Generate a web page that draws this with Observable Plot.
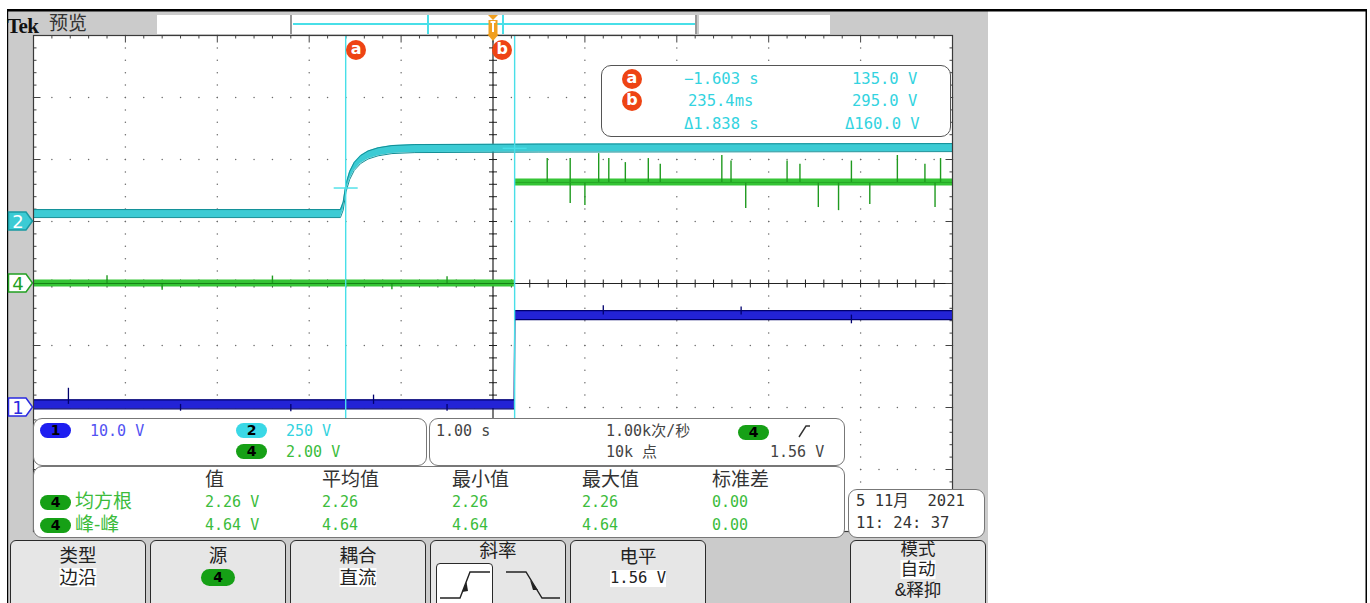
<!DOCTYPE html>
<html><head><meta charset="utf-8">
<script src="https://cdn.jsdelivr.net/npm/d3@7"></script>
<script src="https://cdn.jsdelivr.net/npm/@observablehq/plot@0.6"></script>
<style>
body{margin:0;background:#fff;}
#root{position:relative;width:1370px;height:603px;overflow:hidden;background:#fff;font-family:"DejaVu Sans Mono","Noto Sans CJK SC",monospace;}
#root > svg{position:absolute;left:0;top:0;}
.cjk{font-family:"Liberation Sans","Noto Sans CJK SC",sans-serif;}
</style></head>
<body><div id="root"></div>
<script>
// ---------- data ----------
const secPerDiv = 1.0;
const ch1Scale = 10, ch2Scale = 250, ch4Scale = 2;      // V/div
const ch1Offset = -2, ch2Offset = 1, ch4Offset = 0;     // div
// channel 2 (cyan) trace, seconds / volts
const ch2T = [-5, -1.66, -1.63, -1.60, -1.56, -1.51, -1.44, -1.36, -1.25, -1.10, -0.85, 0.5, 5];
const ch2V = [32, 32, 62, 135, 185, 222, 250, 268, 281, 290, 294, 296, 298];
// channel 4 (green)
const ch4T = [-5, 0.232, 0.236, 5];
const ch4V = [0, 0, 3.26, 3.26];
const ch4SpikeT = [0.59, 0.84, 0.84, 1.0, 1.15, 1.26, 1.44, 1.69, 1.82, 2.49, 2.59, 2.75, 3.2, 3.34, 3.54, 3.76, 3.9, 4.1, 4.4, 4.7, 4.81, 4.87];
const ch4SpikeV = [4.03, 4.03, 2.58, 2.52, 4.19, 4.03, 3.9, 4.03, 3.85, 4.13, 3.95, 2.42, 3.95, 3.85, 2.45, 2.35, 3.95, 2.55, 4.13, 3.85, 2.45, 4.03];
const ch4BaseSpikeT = [-4.2, -3.6, -2.4, -1.1, -0.5];
const ch4BaseSpikeV = [0.25, -0.22, 0.24, -0.2, 0.22];
// channel 1 (blue)
const ch1T = [-5, 0.232, 0.236, 5];
const ch1V = [0.5, 0.5, 14.9, 14.9];
const ch1SpikeT = [-4.62, -3.4, -2.2, -1.3, -0.5, 1.2, 2.7, 3.9];
const ch1SpikeV = [3.1, -0.6, -0.7, 2.0, -0.6, 16.4, 16.2, 13.5];
// cursors
const cursorName = ["a", "b"];
const cursorT = [-1.603, 0.2354];
const cursorV = [135.0, 295.0];
// readouts
const chanLabels = ["1", "2", "4"];
const chanScaleText = ["10.0 V", "250 V", "2.00 V"];
const timebaseText = "1.00 s", sampleRateText = "1.00k次/秒", recordText = "10k 点", trigLevelText = "1.56 V";
const measHeaders = ["值", "平均值", "最小值", "最大值", "标准差"];
const measRows = ["均方根", "峰-峰"];
const measValues = [["2.26 V", "2.26", "2.26", "2.26", "0.00"], ["4.64 V", "4.64", "4.64", "4.64", "0.00"]];
const dateLines = ["5 11月  2021", "11: 24: 37"];

// ---------- helpers ----------
const root = document.getElementById("root");
function box(l, t, w, h, style) {
  const d = document.createElement("div");
  d.style.cssText = `position:absolute;left:${l}px;top:${t}px;width:${w}px;height:${h}px;box-sizing:border-box;${style || ""}`;
  root.appendChild(d); return d;
}
function text(l, yc, s, style, cls, lh) {
  lh = lh || 18;
  const d = document.createElement("div");
  d.textContent = s;
  if (cls) d.className = cls;
  d.style.cssText = `position:absolute;left:${l}px;top:${yc - lh / 2}px;height:${lh}px;line-height:${lh}px;white-space:pre;${style || ""}`;
  root.appendChild(d); return d;
}
function ctext(cx, yc, s, style, cls, lh) {
  const d = text(cx, yc, s, style, cls, lh);
  d.style.transform = "translateX(-50%)";
  return d;
}
function pill(l, t, w, h, bg, s) {
  const d = box(l, t, w, h, `background:${bg};border-radius:${h / 2}px;color:#000;font:bold 14px 'DejaVu Sans';text-align:center;line-height:${h}px;`);
  d.textContent = s; return d;
}

// ---------- background chrome ----------
box(8, 11, 980, 592, "background:#cbcbcb;");

// ---------- plot ----------
const cyan = "#3ccbd4", cyanDark = "#138e96", cursorCol = "#48dfe8";
const green = "#35c435", greenDark = "#137a13";
const blue = "#2323d6", blueDark = "#00006e";
const ch2 = ch2T.map((t, i) => ({t, y: ch2Offset + ch2V[i] / ch2Scale}));
const ch4 = ch4T.map((t, i) => ({t, y: ch4Offset + ch4V[i] / ch4Scale}));
const ch1 = ch1T.map((t, i) => ({t, y: ch1Offset + ch1V[i] / ch1Scale}));
const ch4Level = t => ch4Offset + (t > 0.234 ? 3.26 : 0) / ch4Scale;
const ch1Level = t => ch1Offset + (t > 0.234 ? 14.9 : 0.5) / ch1Scale;
const spikes4 = [...ch4SpikeT.map((t, i) => ({t, y1: ch4Level(t), y2: ch4Offset + ch4SpikeV[i] / ch4Scale})),
                 ...ch4BaseSpikeT.map((t, i) => ({t, y1: ch4Level(t), y2: ch4Offset + ch4BaseSpikeV[i] / ch4Scale}))];
const spikes1 = ch1SpikeT.map((t, i) => ({t, y1: ch1Level(t), y2: ch1Offset + ch1SpikeV[i] / ch1Scale}));

const minorT = d3.range(0, 51).map(i => -5 + i * 0.2 * secPerDiv);
const minorY = d3.range(0, 41).map(i => -4 + i * 0.2);
const majorT = d3.range(-4, 5);
const majorY = d3.range(-3, 4);
const gridPts = [...majorT.flatMap(t => minorY.map(y => ({t, y}))), ...majorY.flatMap(y => minorT.map(t => ({t, y})))];
const px = 1 / 62, pxT = 1 / 91.9;

const curs = cursorT.map((t, i) => ({name: cursorName[i], t, v: cursorV[i], y: ch2Offset + cursorV[i] / ch2Scale}));

const plot = Plot.plot({
  width: 1370, height: 603,
  marginLeft: 33, marginRight: 1370 - 952, marginTop: 35, marginBottom: 603 - 531,
  x: {domain: [-5, 5], axis: null},
  y: {domain: [-4, 4], axis: null},
  style: {background: "transparent", overflow: "visible"},
  marks: [
    Plot.frame({fill: "white"}),
    Plot.dot(gridPts, {x: "t", y: "y", r: 0.75, fill: "#6a6a6a", stroke: null}),
    Plot.ruleX([0], {stroke: "#222", strokeWidth: 1.2}),
    Plot.ruleY([0], {stroke: "#222", strokeWidth: 1.2}),
    Plot.link(minorT, {x1: d => d, x2: d => d, y1: -4 * px, y2: 4 * px, stroke: "#222"}),
    Plot.link(minorY, {y1: d => d, y2: d => d, x1: -4 * pxT, x2: 4 * pxT, stroke: "#222"}),
    Plot.link(minorT, {x1: d => d, x2: d => d, y1: 4, y2: d => 4 - (Math.abs(d % 1) < 1e-6 ? 7 : 3) * px, stroke: "#444"}),
    Plot.link(minorY, {y1: d => d, y2: d => d, x1: -5, x2: d => -5 + (Math.abs(d % 1) < 1e-6 ? 7 : 3) * pxT, stroke: "#444"}),
    Plot.link(minorY, {y1: d => d, y2: d => d, x1: 5, x2: d => 5 - (Math.abs(d % 1) < 1e-6 ? 7 : 3) * pxT, stroke: "#444"}),
    // channel 2
    Plot.areaY(ch2, {x: "t", y1: d => d.y - 4 * px, y2: d => d.y + 4 * px, fill: cyan}),
    Plot.line(ch2, {x: "t", y: d => d.y + 4 * px, stroke: cyanDark, strokeWidth: 1}),
    Plot.line(ch2, {x: "t", y: d => d.y - 4 * px, stroke: cyanDark, strokeWidth: 1}),
    // channel 4
    Plot.areaY(ch4, {x: "t", y1: d => d.y - 3.5 * px, y2: d => d.y + 3.5 * px, fill: green}),
    Plot.ruleX(spikes4, {x: "t", y1: "y1", y2: "y2", stroke: "#1f9a1f", strokeWidth: 1.4}),
    Plot.line(ch4.filter(d => d.t < 0.234), {x: "t", y: "y", stroke: greenDark, strokeWidth: 0.9}),
    Plot.line(ch4.filter(d => d.t > 0.234), {x: "t", y: "y", stroke: "#26a626", strokeWidth: 1}),
    // channel 1
    Plot.areaY(ch1, {x: "t", y1: d => d.y - 4.5 * px, y2: d => d.y + 4.5 * px, fill: blue}),
    Plot.line(ch1, {x: "t", y: d => d.y + 4.5 * px, stroke: blueDark, strokeWidth: 1.2}),
    Plot.line(ch1, {x: "t", y: d => d.y - 4.5 * px, stroke: blueDark, strokeWidth: 1.2}),
    Plot.ruleX(spikes1, {x: "t", y1: "y1", y2: "y2", stroke: blueDark, strokeWidth: 1.3}),
    // cursors
    Plot.ruleX(curs, {x: "t", stroke: cursorCol, strokeWidth: 1.4}),
    Plot.link(curs, {x1: d => d.t - 12 * pxT, x2: d => d.t + 12 * pxT, y1: "y", y2: "y", stroke: cursorCol, strokeWidth: 1.4}),
    Plot.frame({stroke: "#3a3a3a", strokeWidth: 1.2})
  ]
});
root.appendChild(plot);

const xs = plot.scale("x"), ys = plot.scale("y");
const curLabelStyle = "background:#ee4414;border-radius:10px;color:#fff;font:bold 16px 'DejaVu Sans';text-align:center;line-height:17px;";
curs.forEach((c, i) => {
  const cx = xs.apply(c.t) + (i === 0 ? 11 : -12);
  const cy = ys.apply(4) + 15;
  const d = box(cx - 10, cy - 10, 20, 20, curLabelStyle);
  d.textContent = c.name;
});

// ---------- overlay svg for chrome shapes ----------
const ns = "http://www.w3.org/2000/svg";
const ov = document.createElementNS(ns, "svg");
ov.setAttribute("width", 1370); ov.setAttribute("height", 603);
ov.style.cssText = "position:absolute;left:0;top:0;pointer-events:none;";
ov.innerHTML = `
  <rect x="7" y="9" width="1360" height="2.5" fill="#000"/>
  <rect x="7" y="9" width="1.2" height="594" fill="#000"/>
  <rect x="1365.5" y="9" width="1.5" height="594" fill="#000"/>
`;
root.appendChild(ov);

// header
text(7, 25, "Tek", "font:bold 21px 'Liberation Serif';color:#111;letter-spacing:-0.6px;", null, 22);
text(49, 24, "预览", "font-size:19px;color:#333;", "cjk", 20);
box(157, 15, 133, 19, "background:#fff;");
box(290, 15, 407, 19, "background:#fff;border-left:2px solid #999;border-right:2px solid #999;");
box(293, 23, 402, 2, `background:${cursorCol};`);
box(427, 15, 2, 19, `background:${cursorCol};`);
box(502, 15, 2, 19, `background:${cursorCol};`);
box(699, 15, 131, 19, "background:#fff;");
// trigger position marker
const trigX = xs.apply(0);
const tg = document.createElementNS(ns, "svg");
tg.setAttribute("width", 20); tg.setAttribute("height", 30);
tg.style.cssText = `position:absolute;left:${trigX - 10}px;top:13px;`;
tg.innerHTML = `<path d="M5,2 H15 L10,7 Z" fill="#f0a020"/><rect x="5.5" y="7" width="9" height="14" fill="#f0a020"/>
<path d="M7.5,9 H12.5 M10,9 V19" stroke="#fff" stroke-width="2"/><path d="M4,21 H16 L10,28 Z" fill="#f0a020"/>`;
root.appendChild(tg);

// channel markers
const mk = document.createElementNS(ns, "svg");
mk.setAttribute("width", 40); mk.setAttribute("height", 603);
mk.style.cssText = "position:absolute;left:0;top:0;";
const markerDefs = [[ch2Offset, "2", cyan, "#fff", "#1a9aa2"], [ch4Offset, "4", "#fff", "#22a022", "#22a022"], [ch1Offset, "1", "#fff", "#2a2ae0", "#2a2ae0"]];
mk.innerHTML = markerDefs.map(([off, lab, fill, tc, st]) => {
  const y = ys.apply(off);
  return `<path d="M8.5,${y - 9} H26 L32.5,${y} L26,${y + 9} H8.5 Z" fill="${fill}" stroke="${st}" stroke-width="1.5"/>
  <text x="18" y="${y + 6.5}" text-anchor="middle" font-family="DejaVu Sans" font-size="18" fill="${tc}">${lab}</text>`;
}).join("");
root.appendChild(mk);

// cursor readout box
box(601, 65, 350, 72, "background:#fff;border:1.5px solid #555;border-radius:10px;");
const cursorCyan = "#33d3e0";
const rowY = [79, 101, 124];
curs.forEach((c, i) => {
  const d = box(622, rowY[i] - 10, 20, 20, curLabelStyle);
  d.textContent = c.name;
});
const fmtT = t => Math.abs(t) < 1 ? (t * 1000).toFixed(1) + "ms" : t.toFixed(3) + " s";
const readT = [fmtT(cursorT[0]).replace("-", "−"), fmtT(cursorT[1]), "Δ" + (cursorT[1] - cursorT[0]).toFixed(3) + " s"];
const readV = [cursorV[0].toFixed(1) + " V", cursorV[1].toFixed(1) + " V", "Δ" + (cursorV[1] - cursorV[0]).toFixed(1) + " V"];
readT.forEach((s, i) => text(i === 1 ? 688 : 684, rowY[i], s, `font-size:15.5px;color:${cursorCyan};`));
readV.forEach((s, i) => text(i === 2 ? 845 : 852, rowY[i], s, `font-size:15.5px;color:${cursorCyan};`));

// ---------- bottom panels ----------
const numFont = "font-size:15px;";
const gText = "#3cbc3c";
box(33, 418, 394, 48, "background:#fff;border:1.5px solid #777;border-radius:9px;");
pill(40, 423, 31, 15, "#1e1ef0", chanLabels[0]);
text(90, 431, chanScaleText[0], numFont + "color:#5252f2;");
pill(236, 423, 31, 15, "#3ad8e6", chanLabels[1]);
text(286, 431, chanScaleText[1], numFont + `color:${cursorCyan};`);
pill(236, 444, 31, 15, "#16a016", chanLabels[2]);
text(286, 452, chanScaleText[2], numFont + `color:${gText};`);

box(429, 418, 416, 48, "background:#fff;border:1.5px solid #777;border-radius:9px;");
text(436, 431, timebaseText, numFont + "color:#444;");
text(606, 431, sampleRateText, numFont + "color:#444;");
pill(738, 425, 31, 15, "#16a016", "4");
const edge = document.createElementNS(ns, "svg");
edge.setAttribute("width", 14); edge.setAttribute("height", 16);
edge.style.cssText = "position:absolute;left:797px;top:423px;";
edge.innerHTML = `<path d="M2,14 L9,3 H13" fill="none" stroke="#333" stroke-width="1.4"/>`;
root.appendChild(edge);
text(606, 452, recordText, numFont + "color:#444;");
text(770, 452, trigLevelText, numFont + "color:#444;");

box(33, 466, 812, 72, "background:#fff;border:1.5px solid #777;border-radius:9px;");
const colX = [205, 322, 452, 582, 712];
measHeaders.forEach((h, i) => text(colX[i], 480, h, "font-size:19px;color:#333;", "cjk", 20));
measRows.forEach((r, ri) => {
  const y = 502 + ri * 22.5;
  pill(40, y - 7, 31, 15, "#16a016", "4");
  text(75, y, r, `font-size:19px;color:${gText};`, "cjk", 20);
  measValues[ri].forEach((v, i) => text(colX[i], y, v, numFont + `color:${gText};`));
});

box(848, 489, 137, 49, "background:#fff;border:1.5px solid #777;border-radius:9px;");
text(856, 501, dateLines[0], "font-size:15.5px;color:#333;");
text(856, 523, dateLines[1], "font-size:15.5px;color:#333;");

// ---------- soft buttons ----------
const btnL = [10, 150, 290, 430, 570, 850];
btnL.forEach(l => box(l, 540, 136, 70, "background:#e6e6e6;border:1.5px solid #2a2a2a;border-radius:6px;"));
const bt = "font-size:18.5px;color:#222;";
const bt6 = "font-size:17.5px;color:#222;";
ctext(78, 555, "类型", bt, "cjk", 19);
ctext(78, 577, "边沿", bt + "background:#fff;", "cjk", 19);
ctext(218, 555, "源", bt, "cjk", 19);
pill(201, 569, 34, 17, "#16a016", "4");
ctext(358, 555, "耦合", bt, "cjk", 19);
ctext(358, 577, "直流", bt + "background:#fff;", "cjk", 19);
ctext(498, 550, "斜率", bt, "cjk", 19);
ctext(638, 556, "电平", bt, "cjk", 19);
ctext(638, 578, trigLevelText, "font-size:15.5px;color:#222;background:#fff;", null, 17);
ctext(918, 549, "模式", bt6, "cjk", 19);
ctext(918, 569.5, "自动", bt6 + "background:#fff;", "cjk", 19);
ctext(918, 590, "&释抑", bt6, "cjk", 19);
box(436, 563, 57, 45, "background:#fff;border:1.5px solid #2a2a2a;border-radius:4px;");
const sl = document.createElementNS(ns, "svg");
sl.setAttribute("width", 140); sl.setAttribute("height", 50);
sl.style.cssText = "position:absolute;left:430px;top:560px;";
sl.innerHTML = `<path d="M10,38 H30 L40,12 H60" fill="none" stroke="#222" stroke-width="1.4"/>
<path d="M32,32 L36.5,22 L38,31 Z" fill="#222"/>
<path d="M76,12 H96 L112,38 H130" fill="none" stroke="#222" stroke-width="1.4"/>
<path d="M100,20 L108,30 L103,30 Z" fill="#222"/>`;
root.appendChild(sl);
</script>
</body></html>
